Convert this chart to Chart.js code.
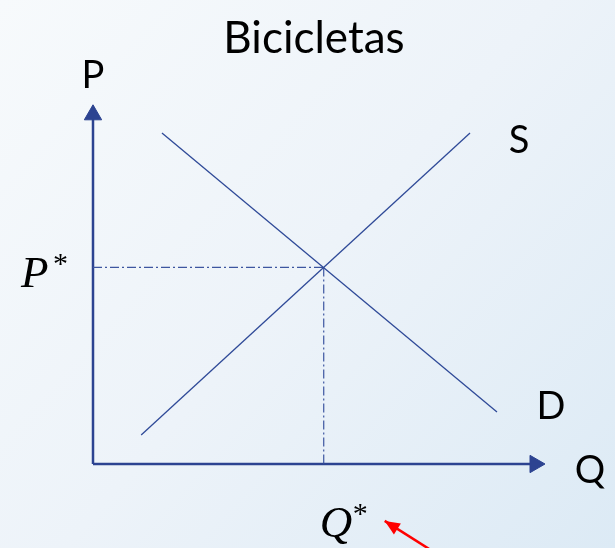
<!DOCTYPE html>
<html>
<head>
<meta charset="utf-8">
<script src="https://cdn.jsdelivr.net/npm/chart.js@4.4.1/dist/chart.umd.min.js"></script>
<style>
  html, body { margin: 0; padding: 0; }
  body { width: 615px; height: 548px; overflow: hidden; }
  #wrap { width: 615px; height: 548px; position: relative; }
</style>
</head>
<body>
<div id="wrap"><canvas id="c" width="615" height="548"></canvas></div>
<script>
// ---- data (schematic units 0..100) ----
const titleText = "Bicicletas";
const axisLabels = { price: "P", quantity: "Q" };
const curveNames = { supply: "S", demand: "D" };
const demandX = [15.6, 91.4];
const demandY = [94.8, 14.9];
const supplyX = [10.9, 85.3];
const supplyY = [8.3, 94.8];
const equilibriumP = 56.3;
const equilibriumQ = 52.2;
const axisMax = [100, 100];
const pointerX = [77.5, 66.0];   // red pointer towards Q*
const pointerY = [-25.5, -16.3];

const lineColor = "#2F4A98";
const axisColor = "#2C4391";

const toPts = (xs, ys) => xs.map((x, i) => ({ x: x, y: ys[i] }));

const bgPlugin = {
  id: "bg",
  beforeDraw(chart) {
    const { ctx, width, height } = chart;
    const g = ctx.createLinearGradient(0, 0, width, height);
    g.addColorStop(0, "#F7FAFC");
    g.addColorStop(0.5, "#EDF3F9");
    g.addColorStop(1, "#DCEAF5");
    ctx.save();
    ctx.fillStyle = g;
    ctx.fillRect(0, 0, width, height);
    ctx.restore();
  }
};

const textPlugin = {
  id: "labels",
  afterDatasetsDraw(chart) {
    const { ctx } = chart;
    const xs = chart.scales.x, ys = chart.scales.y;
    const x0 = xs.getPixelForValue(0), y0 = ys.getPixelForValue(0);
    const px = xs.getPixelForValue(equilibriumQ), py = ys.getPixelForValue(equilibriumP);
    ctx.save();
    // red pointer head (outside chart area, so drawn here from scale pixels)
    const tx = xs.getPixelForValue(pointerX[1]), ty = ys.getPixelForValue(pointerY[1]);
    const bx = xs.getPixelForValue(pointerX[0]), by = ys.getPixelForValue(pointerY[0]);
    const ang = Math.atan2(ty - by, tx - bx);
    const L = 15, W = 6.5;
    ctx.fillStyle = "#FF0000";
    ctx.beginPath();
    ctx.moveTo(tx, ty);
    ctx.lineTo(tx - L * Math.cos(ang) + W * Math.sin(ang), ty - L * Math.sin(ang) - W * Math.cos(ang));
    ctx.lineTo(tx - L * Math.cos(ang) - W * Math.sin(ang), ty - L * Math.sin(ang) + W * Math.cos(ang));
    ctx.closePath();
    ctx.fill();

    ctx.fillStyle = "#000";
    ctx.textBaseline = "alphabetic";
    ctx.textAlign = "center";
    ctx.font = "38px Lato";
    ctx.fillText(axisLabels.price, x0, ys.getPixelForValue(axisMax[1]) - 27);
    ctx.fillText(axisLabels.quantity, xs.getPixelForValue(axisMax[0]) + 55, y0 + 19);
    ctx.fillText(curveNames.supply, xs.getPixelForValue(supplyX[1]) + 49, ys.getPixelForValue(supplyY[1]) + 20);
    ctx.fillText(curveNames.demand, xs.getPixelForValue(demandX[1]) + 54, ys.getPixelForValue(demandY[1]) + 7);
    // P*
    ctx.textAlign = "left";
    ctx.font = "italic 45px 'Liberation Serif'";
    ctx.fillText("P", x0 - 72, py + 20);
    ctx.font = "30px 'Liberation Serif'";
    ctx.fillText("*", x0 - 40, py + 6);
    // Q*
    ctx.font = "italic 45px 'Liberation Serif'";
    ctx.fillText("Q", px - 4, y0 + 73);
    ctx.font = "30px 'Liberation Serif'";
    ctx.fillText("*", px + 29, y0 + 59);
    ctx.restore();
  }
};

new Chart(document.getElementById("c"), {
  type: "scatter",
  data: {
    datasets: [
      { label: "demand", data: toPts(demandX, demandY), showLine: true, borderColor: lineColor, borderWidth: 1.3, pointRadius: 0 },
      { label: "supply", data: toPts(supplyX, supplyY), showLine: true, borderColor: lineColor, borderWidth: 1.3, pointRadius: 0 },
      { label: "p-ref", data: [{ x: 0, y: equilibriumP }, { x: equilibriumQ, y: equilibriumP }], showLine: true,
        borderColor: "#3D56A0", borderWidth: 1.2, borderDash: [9, 3, 2, 3], pointRadius: 0 },
      { label: "q-ref", data: [{ x: equilibriumQ, y: equilibriumP }, { x: equilibriumQ, y: 0 }], showLine: true,
        borderColor: "#3D56A0", borderWidth: 1.2, borderDash: [9, 3, 2, 3], pointRadius: 0 },
      { label: "y-axis", data: [{ x: 0, y: 0 }, { x: 0, y: axisMax[1] }], showLine: true, borderColor: axisColor, borderWidth: 2.5,
        pointStyle: "triangle", pointRadius: [0, 10], pointRotation: 0, pointBackgroundColor: axisColor, pointBorderColor: axisColor, pointBorderWidth: 1 },
      { label: "x-axis", data: [{ x: 0, y: 0 }, { x: axisMax[0], y: 0 }], showLine: true, borderColor: axisColor, borderWidth: 2.5,
        pointStyle: "triangle", pointRadius: [0, 10], pointRotation: 90, pointBackgroundColor: axisColor, pointBorderColor: axisColor, pointBorderWidth: 1 },
      { label: "pointer", data: toPts(pointerX, pointerY), showLine: true, borderColor: "#FF0000", borderWidth: 2.5, pointRadius: 0 }
    ]
  },
  options: {
    responsive: false,
    animation: false,
    clip: false,
    events: [],
    layout: { padding: { left: 93, right: 80, top: 0, bottom: 84 } },
    scales: {
      x: { type: "linear", min: 0, max: axisMax[0], display: false },
      y: { type: "linear", min: 0, max: axisMax[1], display: false }
    },
    plugins: {
      legend: { display: false },
      tooltip: { enabled: false },
      title: {
        display: true, text: titleText, color: "#000",
        font: { family: "Lato", size: 44, weight: "normal" },
        padding: { top: 12, bottom: 50 }
      }
    }
  },
  plugins: [bgPlugin, textPlugin]
});
</script>
</body>
</html>
